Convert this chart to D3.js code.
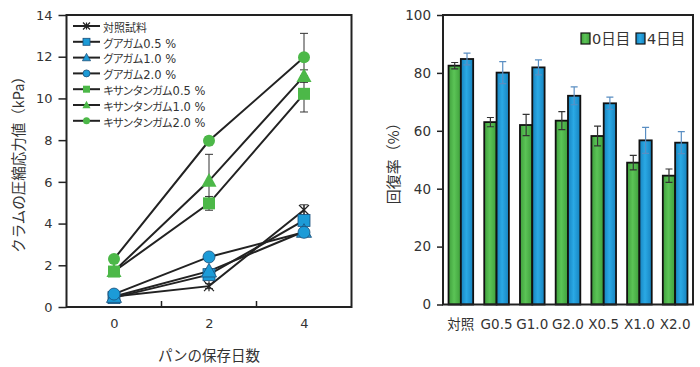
<!DOCTYPE html>
<html><head><meta charset="utf-8">
<script src="https://cdn.jsdelivr.net/npm/d3@7"></script>
<style>
body{margin:0;background:#fff;}
text{font-family:"DejaVu Sans","Noto Sans CJK JP",sans-serif;fill:#333;}
.jp{font-family:"Noto Sans CJK JP",sans-serif;}
</style></head>
<body><svg id="c" width="700" height="367"></svg>
<script>
// ---------- Left chart data ----------
const days = [0, 2, 4];
const dayTicks = [0, 2, 4];
const yTicksL = [0, 2, 4, 6, 8, 10, 12, 14];
const seriesNames = ["対照試料","グアガム0.5 %","グアガム1.0 %","グアガム2.0 %","キサンタンガム0.5 %","キサンタンガム1.0 %","キサンタンガム2.0 %"];
const control = [0.5, 1.0, 4.65];
const guar05 = [0.45, 1.55, 4.15];
const guar10 = [0.5, 1.72, 3.62];
const guar20 = [0.62, 2.4, 3.58];
const xan05 = [1.7, 4.97, 10.22];
const xan10 = [1.72, 6.05, 11.07];
const xan20 = [2.3, 7.97, 11.97];
const controlErr = [0.1, 0.12, 0.25];
const guar05Err = [0.05, 0.1, 0.15];
const guar10Err = [0.05, 0.1, 0.15];
const guar20Err = [0.05, 0.1, 0.15];
const xan05Err = [0.1, 0.33, 0.87];
const xan10Err = [0.1, 1.27, 0.3];
const xan20Err = [0.1, 0.2, 1.15];

// ---------- Right chart data ----------
const categories = ["対照","G0.5","G1.0","G2.0","X0.5","X1.0","X2.0"];
const groups = ["0日目","4日目"];
const day0 = [82.5, 63.0, 62.0, 63.5, 58.2, 49.0, 44.5];
const day4 = [84.8, 80.1, 81.9, 72.1, 69.5, 56.7, 55.9];
const day0Err = [1.1, 1.6, 3.7, 3.1, 3.4, 2.5, 2.3];
const day4Err = [2.0, 3.8, 2.6, 3.1, 2.1, 4.5, 3.8];
const yTicksR = [0, 20, 40, 60, 80, 100];

const GREEN = "#4cb848", BLUE = "#1c9bd7";
const svg = d3.select("#c");
svg.append("rect").attr("width",700).attr("height",367).attr("fill","#fff");

const defs = svg.append("defs");
[["gG","#3f9f3c","#5bc456"],["gB","#1783bf","#2aa9e5"]].forEach(([id,e,c])=>{
  const lgd = defs.append("linearGradient").attr("id",id).attr("x1","0").attr("x2","1").attr("y1","0").attr("y2","0");
  lgd.append("stop").attr("offset","0").attr("stop-color",e);
  lgd.append("stop").attr("offset","0.45").attr("stop-color",c);
  lgd.append("stop").attr("offset","1").attr("stop-color",e);
});

// ================= LEFT =================
const xL = d3.scaleLinear().domain([-1, 5]).range([66.5, 351.5]);
const yL = d3.scaleLinear().domain([0, 14]).range([307, 15]);
const L = svg.append("g");

const seriesDefs = [
  {name:seriesNames[0], v:control, e:controlErr, color:"#222", shape:"star"},
  {name:seriesNames[1], v:guar05, e:guar05Err, color:BLUE, shape:"square"},
  {name:seriesNames[2], v:guar10, e:guar10Err, color:BLUE, shape:"triangle"},
  {name:seriesNames[3], v:guar20, e:guar20Err, color:BLUE, shape:"circle"},
  {name:seriesNames[4], v:xan05, e:xan05Err, color:GREEN, shape:"square"},
  {name:seriesNames[5], v:xan10, e:xan10Err, color:GREEN, shape:"triangle"},
  {name:seriesNames[6], v:xan20, e:xan20Err, color:GREEN, shape:"circle"}
];

// y axis (outward ticks)
const yAxisL = d3.axisLeft(yL).tickValues(yTicksL).tickSize(8).tickPadding(6).tickFormat(d3.format("d"));
const gy = L.append("g").attr("transform",`translate(${xL(-1)},0)`).call(yAxisL);
gy.select(".domain").remove();
gy.selectAll(".tick line").attr("stroke","#222").attr("stroke-width",1.5);
gy.selectAll(".tick text").attr("font-size",13).attr("fill","#333");

// x axis labels and inward ticks
const gx = L.append("g").attr("transform",`translate(0,${yL(0)})`)
  .call(d3.axisBottom(xL).tickValues(dayTicks).tickSize(0).tickPadding(12).tickFormat(d3.format("d")));
gx.select(".domain").remove();
gx.selectAll(".tick text").attr("font-size",13).attr("fill","#333");
L.selectAll(".xtick").data([1,3]).join("line")
  .attr("x1",d=>xL(d)).attr("x2",d=>xL(d)).attr("y1",yL(0)).attr("y2",yL(0)-6)
  .attr("stroke","#222").attr("stroke-width",1.5);

// frame
L.append("rect").attr("x",xL(-1)).attr("y",yL(14)).attr("width",xL(5)-xL(-1)).attr("height",yL(0)-yL(14))
  .attr("fill","none").attr("stroke","#222").attr("stroke-width",2);

// titles
L.append("text").attr("class","jp").attr("x",xL(2)).attr("y",361).attr("text-anchor","middle")
  .attr("font-size",14.5).text("パンの保存日数");
L.append("text").attr("class","jp").attr("transform",`translate(24,${yL(7)}) rotate(-90)`)
  .attr("text-anchor","middle").attr("font-size",14.5).text("クラムの圧縮応力値（kPa）");

function drawMarker(g, shape, color, size, stroke){
  const s = size;
  if(shape==="star"){
    g.append("path").attr("d",`M${-s/2},${-s/2}L${s/2},${s/2}M${-s/2},${s/2}L${s/2},${-s/2}M0,${-s/2}L0,${s/2}`)
      .attr("stroke","#222").attr("stroke-width",1.2).attr("fill","none");
  } else if(shape==="square"){
    g.append("rect").attr("x",-s/2).attr("y",-s/2).attr("width",s).attr("height",s)
      .attr("fill",color).attr("stroke",stroke||"none").attr("stroke-width",0.8);
  } else if(shape==="triangle"){
    g.append("path").attr("d",`M0,${-s*0.6}L${s*0.58},${s*0.45}L${-s*0.58},${s*0.45}Z`)
      .attr("fill",color).attr("stroke",stroke||"none").attr("stroke-width",0.8);
  } else {
    g.append("circle").attr("r",s/2).attr("fill",color).attr("stroke",stroke||"none").attr("stroke-width",0.8);
  }
}

const line = d3.line().x((d,i)=>xL(days[i])).y(d=>yL(d));
const plotG = L.append("g");
seriesDefs.forEach(s=>{
  plotG.append("path").attr("d",line(s.v)).attr("fill","none").attr("stroke","#222").attr("stroke-width",2);
});
seriesDefs.forEach(s=>{
  s.v.forEach((v,i)=>{
    const x = xL(days[i]);
    plotG.append("path").attr("d",`M${x},${yL(v-s.e[i])}V${yL(v+s.e[i])}M${x-4},${yL(v-s.e[i])}H${x+4}M${x-4},${yL(v+s.e[i])}H${x+4}`)
      .attr("stroke","#333").attr("stroke-width",1).attr("fill","none");
  });
});
seriesDefs.forEach(s=>{
  s.v.forEach((v,i)=>{
    const g = plotG.append("g").attr("transform",`translate(${xL(days[i])},${yL(v)})`);
    const stroke = s.color===BLUE ? "#1a4f7a" : null;
    drawMarker(g, s.shape, s.color, s.shape==="star"?10:(s.shape==="triangle"?13:12), stroke);
  });
});

// legend
const lg = L.append("g");
seriesDefs.forEach((s,i)=>{
  const y = 26 + i*15.8;
  lg.append("line").attr("x1",73).attr("x2",100).attr("y1",y).attr("y2",y).attr("stroke","#222").attr("stroke-width",2);
  const g = lg.append("g").attr("transform",`translate(86.5,${y})`);
  drawMarker(g, s.shape, s.color, 7, s.color===BLUE?"#1a4f7a":null);
  const t = lg.append("text").attr("x",103).attr("y",y).attr("dy","0.36em");
  const m = s.name.match(/^([^0-9]+)(.*)$/);
  const kana = /[\u30A0-\u30FF]/.test(m[1]);
  t.append("tspan").attr("class","jp").attr("font-size",11).attr("letter-spacing",kana?-1.2:0).text(m[1]);
  if(m[2]) t.append("tspan").attr("font-size",11.5).attr("dx",1).text(m[2]);
});

// ================= RIGHT =================
const R = svg.append("g");
const x0 = d3.scaleBand().domain(categories).range([443, 693]).paddingInner(0.31).paddingOuter(0.155);
const x1 = d3.scaleBand().domain(groups).range([0, x0.bandwidth()]);
const yR = d3.scaleLinear().domain([0, 100]).range([304.5, 15]);

const gyR = R.append("g").attr("transform",`translate(443,0)`)
  .call(d3.axisLeft(yR).tickValues(yTicksR).tickSize(6).tickPadding(6));
gyR.select(".domain").remove();
gyR.selectAll(".tick line").attr("stroke","#222").attr("stroke-width",1.5);
gyR.selectAll(".tick text").attr("font-size",13.5).attr("fill","#333");

const gxR = R.append("g").attr("transform",`translate(0,304.5)`)
  .call(d3.axisBottom(x0).tickSize(0).tickPadding(15));
gxR.select(".domain").remove();
gxR.selectAll(".tick text").attr("font-size",13.5).attr("fill","#333");

R.append("text").attr("class","jp").attr("transform",`translate(399,${yR(50)}) rotate(-90)`)
  .attr("text-anchor","middle").attr("font-size",15).text("回復率（%）");

const barData = [];
categories.forEach((c,i)=>{
  barData.push({c, g:groups[0], v:day0[i], e:day0Err[i], color:"url(#gG)", ec:"#333"});
  barData.push({c, g:groups[1], v:day4[i], e:day4Err[i], color:"url(#gB)", ec:"#5a8ec2"});
});
R.selectAll(".bar").data(barData).join("rect")
  .attr("x",d=>x0(d.c)+x1(d.g)).attr("y",d=>yR(d.v))
  .attr("width",x1.bandwidth()).attr("height",d=>yR(0)-yR(d.v))
  .attr("fill",d=>d.color).attr("stroke","#111").attr("stroke-width",1.8);
R.selectAll(".err").data(barData).join("path")
  .attr("d",d=>{
    const x = x0(d.c)+x1(d.g)+x1.bandwidth()/2;
    const a = yR(d.v-d.e), b = yR(d.v+d.e);
    return `M${x},${a}V${b}M${x-3.5},${a}H${x+3.5}M${x-3.5},${b}H${x+3.5}`;
  })
  .attr("stroke",d=>d.ec).attr("stroke-width",1.2).attr("fill","none");

R.append("rect").attr("x",443).attr("y",15).attr("width",250).attr("height",289.5)
  .attr("fill","none").attr("stroke","#222").attr("stroke-width",2);

// legend right
const lgR = R.append("g");
[{g:groups[0],c:"url(#gG)",x:581},{g:groups[1],c:"url(#gB)",x:636}].forEach(d=>{
  lgR.append("rect").attr("x",d.x).attr("y",33).attr("width",9).attr("height",11)
    .attr("fill",d.c).attr("stroke","#111").attr("stroke-width",1.2);
  lgR.append("text").attr("x",d.x+11).attr("y",39).attr("dy","0.36em").attr("font-size",14.5).text(d.g);
});
</script></body></html>
